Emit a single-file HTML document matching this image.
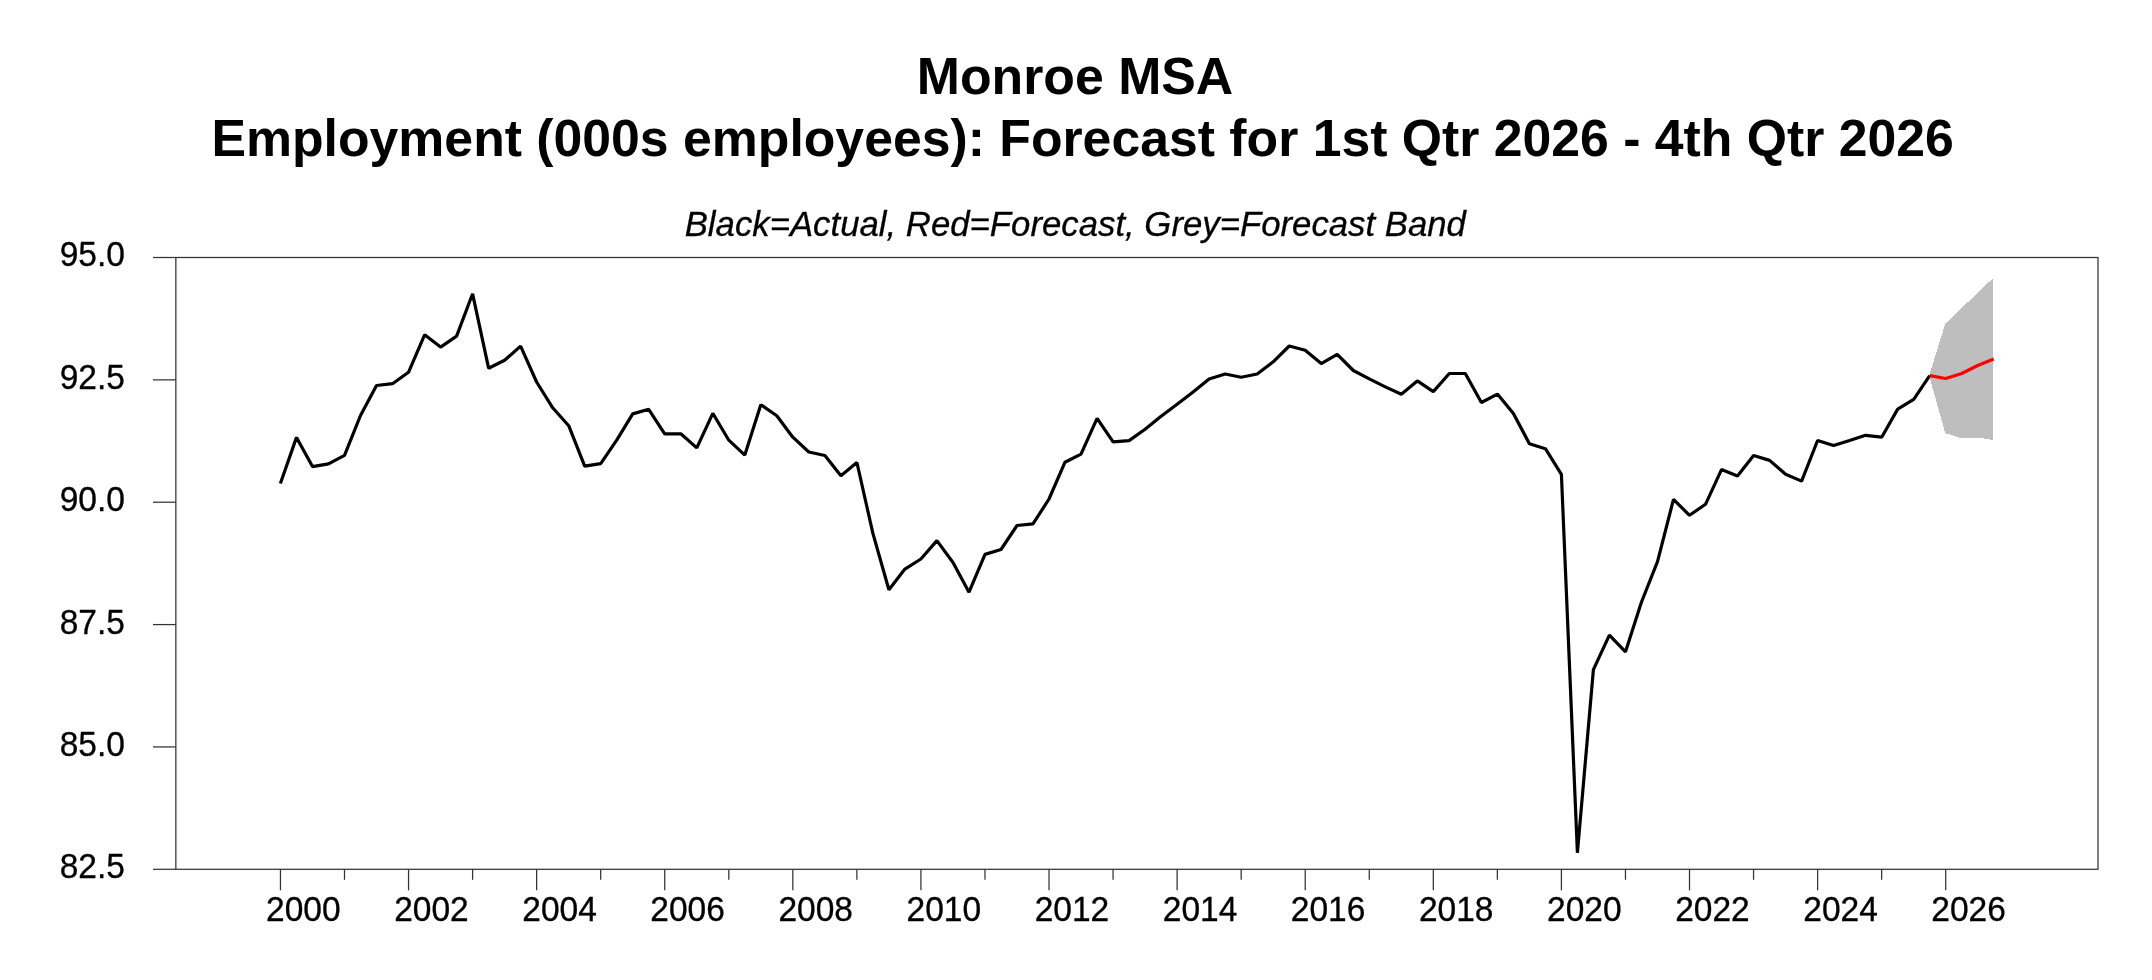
<!DOCTYPE html>
<html><head><meta charset="utf-8"><title>Monroe MSA Employment Forecast</title>
<style>
html,body{margin:0;padding:0;background:#fff;}
body{width:2152px;height:980px;overflow:hidden;font-family:"Liberation Sans",sans-serif;}
svg{display:block;will-change:transform;}
</style></head><body>
<svg width="2152" height="980" viewBox="0 0 2152 980">
<rect width="2152" height="980" fill="#fff"/>
<polygon fill="#bebebe" shape-rendering="crispEdges" points="1929.2,375.7 1945.2,323.8 1961.2,308.2 1977.2,293.6 1993.2,277.9 1993.2,439.9 1977.2,437.6 1961.2,438.2 1945.2,433.1 1929.2,375.7"/>
<polyline fill="none" stroke="#000" stroke-width="3.2" stroke-linejoin="bevel" stroke-linecap="butt" points="280.4,483.5 296.5,437.4 312.5,466.6 328.5,463.8 344.5,455.4 360.5,415.5 376.5,385.5 392.5,383.7 408.5,372.3 424.6,334.8 440.6,347.1 456.6,336.1 472.6,293.8 488.6,368.2 504.6,360.3 520.6,346.1 536.6,382.0 552.7,407.8 568.7,425.7 584.7,466.2 600.7,463.6 616.7,440.2 632.7,413.9 648.7,409.3 664.7,433.8 680.8,433.8 696.8,447.9 712.8,413.3 728.8,440.2 744.8,455.1 760.8,404.7 776.8,415.7 792.8,437.2 808.8,452.0 824.9,455.5 840.9,475.7 856.9,462.5 872.9,533.4 888.9,589.8 904.9,569.1 920.9,559.0 936.9,540.6 953.0,562.5 969.0,592.2 985.0,554.4 1001.0,549.5 1017.0,525.5 1033.0,523.9 1049.0,499.0 1065.0,462.2 1081.0,454.1 1097.1,418.4 1113.1,441.8 1129.1,440.6 1145.1,429.3 1161.1,416.2 1177.1,404.3 1193.1,392.1 1209.1,379.0 1225.2,374.0 1241.2,377.2 1257.2,374.0 1273.2,361.8 1289.2,346.0 1305.2,350.3 1321.2,363.6 1337.2,354.4 1353.3,370.5 1369.3,378.9 1385.3,386.9 1401.3,394.2 1417.3,380.9 1433.3,391.6 1449.3,373.5 1465.3,373.5 1481.4,402.5 1497.4,394.1 1513.4,413.5 1529.4,443.7 1545.4,448.7 1561.4,474.3 1577.4,852.8 1593.4,669.6 1609.4,635.1 1625.5,651.8 1641.5,602.0 1657.5,561.6 1673.5,499.4 1689.5,515.3 1705.5,504.3 1721.5,469.6 1737.5,476.0 1753.6,455.5 1769.6,460.4 1785.6,474.2 1801.6,481.1 1817.6,440.5 1833.6,445.6 1849.6,440.5 1865.6,435.3 1881.7,437.2 1897.7,409.1 1913.7,399.4 1929.7,375.7"/>
<polyline fill="none" stroke="#f00" stroke-width="3.2" stroke-linejoin="bevel" stroke-linecap="butt" points="1929.7,375.7 1945.7,378.5 1961.7,373.5 1977.7,365.5 1993.7,358.9"/>
<g stroke="#333" stroke-width="1.25" fill="none">
<rect x="175.85" y="257.5" width="1922.15" height="611.8"/>
<line x1="153" y1="257.50" x2="175.85" y2="257.50"/>
<line x1="153" y1="379.86" x2="175.85" y2="379.86"/>
<line x1="153" y1="502.22" x2="175.85" y2="502.22"/>
<line x1="153" y1="624.58" x2="175.85" y2="624.58"/>
<line x1="153" y1="746.94" x2="175.85" y2="746.94"/>
<line x1="153" y1="869.30" x2="175.85" y2="869.30"/>
<line x1="280.45" y1="869.3" x2="280.45" y2="890.3"/>
<line x1="344.50" y1="869.3" x2="344.50" y2="879.8"/>
<line x1="408.55" y1="869.3" x2="408.55" y2="890.3"/>
<line x1="472.59" y1="869.3" x2="472.59" y2="879.8"/>
<line x1="536.64" y1="869.3" x2="536.64" y2="890.3"/>
<line x1="600.69" y1="869.3" x2="600.69" y2="879.8"/>
<line x1="664.74" y1="869.3" x2="664.74" y2="890.3"/>
<line x1="728.79" y1="869.3" x2="728.79" y2="879.8"/>
<line x1="792.83" y1="869.3" x2="792.83" y2="890.3"/>
<line x1="856.88" y1="869.3" x2="856.88" y2="879.8"/>
<line x1="920.93" y1="869.3" x2="920.93" y2="890.3"/>
<line x1="984.98" y1="869.3" x2="984.98" y2="879.8"/>
<line x1="1049.03" y1="869.3" x2="1049.03" y2="890.3"/>
<line x1="1113.07" y1="869.3" x2="1113.07" y2="879.8"/>
<line x1="1177.12" y1="869.3" x2="1177.12" y2="890.3"/>
<line x1="1241.17" y1="869.3" x2="1241.17" y2="879.8"/>
<line x1="1305.22" y1="869.3" x2="1305.22" y2="890.3"/>
<line x1="1369.27" y1="869.3" x2="1369.27" y2="879.8"/>
<line x1="1433.31" y1="869.3" x2="1433.31" y2="890.3"/>
<line x1="1497.36" y1="869.3" x2="1497.36" y2="879.8"/>
<line x1="1561.41" y1="869.3" x2="1561.41" y2="890.3"/>
<line x1="1625.46" y1="869.3" x2="1625.46" y2="879.8"/>
<line x1="1689.51" y1="869.3" x2="1689.51" y2="890.3"/>
<line x1="1753.55" y1="869.3" x2="1753.55" y2="879.8"/>
<line x1="1817.60" y1="869.3" x2="1817.60" y2="890.3"/>
<line x1="1881.65" y1="869.3" x2="1881.65" y2="879.8"/>
<line x1="1945.70" y1="869.3" x2="1945.70" y2="890.3"/>
</g>
<g font-family="'Liberation Sans', sans-serif" font-size="33.5" fill="#000" stroke="#000" stroke-width="0.3">
<text transform="translate(124.9,266.4) scale(1,1.04)" text-anchor="end">95.0</text>
<text transform="translate(124.9,388.8) scale(1,1.04)" text-anchor="end">92.5</text>
<text transform="translate(124.9,511.1) scale(1,1.04)" text-anchor="end">90.0</text>
<text transform="translate(124.9,633.5) scale(1,1.04)" text-anchor="end">87.5</text>
<text transform="translate(124.9,755.8) scale(1,1.04)" text-anchor="end">85.0</text>
<text transform="translate(124.9,878.2) scale(1,1.04)" text-anchor="end">82.5</text>
<text transform="translate(303.3,920.5) scale(1,1.04)" text-anchor="middle">2000</text>
<text transform="translate(431.4,920.5) scale(1,1.04)" text-anchor="middle">2002</text>
<text transform="translate(559.5,920.5) scale(1,1.04)" text-anchor="middle">2004</text>
<text transform="translate(687.6,920.5) scale(1,1.04)" text-anchor="middle">2006</text>
<text transform="translate(815.7,920.5) scale(1,1.04)" text-anchor="middle">2008</text>
<text transform="translate(943.8,920.5) scale(1,1.04)" text-anchor="middle">2010</text>
<text transform="translate(1071.9,920.5) scale(1,1.04)" text-anchor="middle">2012</text>
<text transform="translate(1200.0,920.5) scale(1,1.04)" text-anchor="middle">2014</text>
<text transform="translate(1328.1,920.5) scale(1,1.04)" text-anchor="middle">2016</text>
<text transform="translate(1456.2,920.5) scale(1,1.04)" text-anchor="middle">2018</text>
<text transform="translate(1584.3,920.5) scale(1,1.04)" text-anchor="middle">2020</text>
<text transform="translate(1712.4,920.5) scale(1,1.04)" text-anchor="middle">2022</text>
<text transform="translate(1840.5,920.5) scale(1,1.04)" text-anchor="middle">2024</text>
<text transform="translate(1968.6,920.5) scale(1,1.04)" text-anchor="middle">2026</text>
</g>
<g font-family="'Liberation Sans', sans-serif" fill="#000" text-anchor="middle">
<text x="1075" y="93.6" font-size="51.8" font-weight="bold">Monroe MSA</text>
<text x="1082.7" y="156.1" font-size="51.74" font-weight="bold">Employment (000s employees): Forecast for 1st Qtr 2026 - 4th Qtr 2026</text>
<text transform="translate(1075.3,236.0) scale(1,1.025)" font-size="34.77" font-style="italic" stroke="#000" stroke-width="0.3">Black=Actual, Red=Forecast, Grey=Forecast Band</text>
</g>
</svg>
</body></html>
